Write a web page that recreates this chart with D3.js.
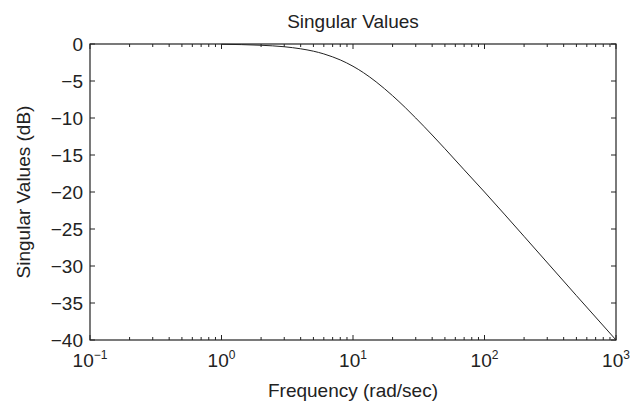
<!DOCTYPE html>
<html><head><meta charset="utf-8">
<script src="https://cdn.jsdelivr.net/npm/d3@7"></script>
<style>
html,body{margin:0;padding:0;background:#fff;}
svg{display:block;}
text{font-family:"Liberation Sans",Arial,Helvetica,sans-serif;fill:#222;}
</style></head>
<body>
<svg id="c" width="632" height="404"></svg>
<script>
// Data
const freq = [1, 2, 3, 4, 5, 6, 7, 8, 10, 12, 15, 20, 25, 30, 40, 50, 70, 100, 200, 500, 1000];
const sv   = [-0.04, -0.17, -0.37, -0.65, -0.97, -1.34, -1.74, -2.15, -3.01, -3.87, -5.12, -6.99, -8.60, -10.0, -12.3, -14.15, -17.0, -20.0, -26.0, -34.0, -40.0];
const xTickExp = [-1, 0, 1, 2, 3];
const yTicks = [0, -5, -10, -15, -20, -25, -30, -35, -40];
const title = "Singular Values";
const xLabel = "Frequency (rad/sec)";
const yLabel = "Singular Values (dB)";

const L = 90, R = 616, T = 44, B = 340;
const FS = 19;
const svg = d3.select("#c");
const x = d3.scaleLog().domain([0.1, 1000]).range([L, R]);
const y = d3.scaleLinear().domain([-40, 0]).range([B, T]);

// frame
svg.append("rect").attr("x", L).attr("y", T).attr("width", R - L).attr("height", B - T)
  .attr("fill", "none").attr("stroke", "#222").attr("stroke-width", 1.2);

// ticks, inward on all sides
const minor = [];
for (let e = -1; e < 3; e++) for (let m = 2; m <= 9; m++) minor.push(m * Math.pow(10, e));
const tg = svg.append("g").attr("stroke", "#222").attr("stroke-width", 1);
xTickExp.forEach(e => {
  const px = x(Math.pow(10, e));
  tg.append("line").attr("x1", px).attr("x2", px).attr("y1", B).attr("y2", B - 5);
  tg.append("line").attr("x1", px).attr("x2", px).attr("y1", T).attr("y2", T + 5);
});
minor.forEach(v => {
  const px = x(v);
  tg.append("line").attr("x1", px).attr("x2", px).attr("y1", B).attr("y2", B - 3);
  tg.append("line").attr("x1", px).attr("x2", px).attr("y1", T).attr("y2", T + 3);
});
yTicks.forEach(v => {
  const py = y(v);
  tg.append("line").attr("x1", L).attr("x2", L + 5).attr("y1", py).attr("y2", py);
  tg.append("line").attr("x1", R).attr("x2", R - 5).attr("y1", py).attr("y2", py);
});

// x tick labels
xTickExp.forEach(e => {
  const t = svg.append("text").attr("x", x(Math.pow(10, e))).attr("y", B + 27)
    .attr("text-anchor", "middle").attr("font-size", FS);
  t.append("tspan").text("10");
  t.append("tspan").attr("dy", -8).attr("font-size", 12).text(String(e).replace("-", "\u2212"));
});
// y tick labels
yTicks.forEach(v => {
  svg.append("text").attr("x", L - 7).attr("y", y(v) + 7)
    .attr("text-anchor", "end").attr("font-size", FS)
    .text(String(v).replace("-", "\u2212"));
});

// curve
const line = d3.line().x((d, i) => x(freq[i])).y(d => y(d)).curve(d3.curveMonotoneX);
svg.append("path").attr("d", line(sv)).attr("fill", "none").attr("stroke", "#222").attr("stroke-width", 1);

// titles
svg.append("text").attr("x", (L + R) / 2).attr("y", 28).attr("text-anchor", "middle")
  .attr("font-size", FS).text(title);
svg.append("text").attr("x", (L + R) / 2).attr("y", 397).attr("text-anchor", "middle")
  .attr("font-size", FS).text(xLabel);
svg.append("text").attr("transform", `translate(30,${(T + B) / 2}) rotate(-90)`)
  .attr("text-anchor", "middle").attr("font-size", FS).text(yLabel);
</script>
</body></html>
